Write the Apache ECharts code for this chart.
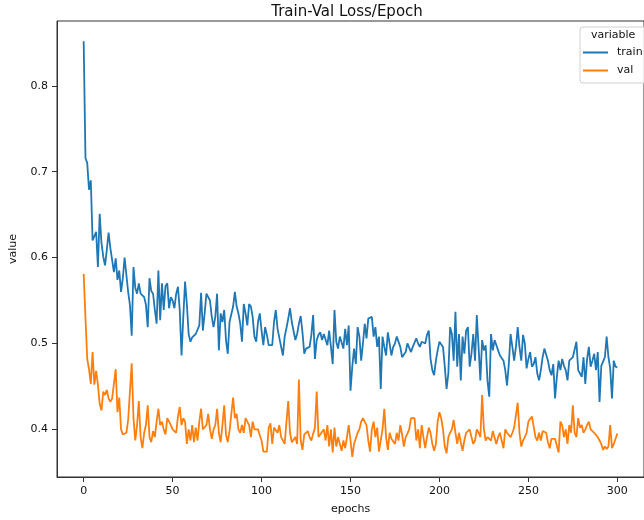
<!DOCTYPE html>
<html>
<head>
<meta charset="utf-8">
<script src="https://cdn.jsdelivr.net/npm/echarts@6/dist/echarts.min.js"></script>
<style>
  html, body { margin: 0; padding: 0; background: #fff; }
  #chart { width: 644px; height: 520px; }
</style>
</head>
<body>
<div id="chart"></div>
<script>
const trainLoss = [
  0.852, 0.716, 0.710, 0.679, 0.690, 0.620, 0.622, 0.630, 0.589, 0.651,
  0.617, 0.601, 0.591, 0.609, 0.629, 0.611, 0.609, 0.583, 0.599, 0.574,
  0.585, 0.560, 0.576, 0.600, 0.580, 0.560, 0.545, 0.509, 0.589, 0.565,
  0.558, 0.570, 0.558, 0.560, 0.554, 0.545, 0.519, 0.576, 0.561, 0.558,
  0.539, 0.523, 0.585, 0.527, 0.570, 0.539, 0.567, 0.570, 0.541, 0.554,
  0.550, 0.541, 0.558, 0.566, 0.539, 0.486, 0.531, 0.572, 0.546, 0.511,
  0.502, 0.507, 0.509, 0.511, 0.513, 0.521, 0.559, 0.515, 0.535, 0.558,
  0.558, 0.550, 0.531, 0.519, 0.531, 0.558, 0.492, 0.535, 0.525, 0.539,
  0.504, 0.488, 0.525, 0.525, 0.543, 0.560, 0.543, 0.535, 0.523, 0.502,
  0.546, 0.535, 0.521, 0.546, 0.543, 0.531, 0.508, 0.502, 0.525, 0.535,
  0.515, 0.498, 0.519, 0.510, 0.498, 0.496, 0.498, 0.525, 0.539, 0.517,
  0.515, 0.496, 0.486, 0.508, 0.518, 0.529, 0.541, 0.525, 0.523, 0.504,
  0.511, 0.523, 0.532, 0.513, 0.488, 0.494, 0.492, 0.496, 0.510, 0.533,
  0.482, 0.504, 0.510, 0.513, 0.504, 0.511, 0.510, 0.498, 0.515, 0.496,
  0.476, 0.539, 0.502, 0.494, 0.508, 0.506, 0.494, 0.517, 0.498, 0.521,
  0.445, 0.473, 0.494, 0.476, 0.519, 0.508, 0.480, 0.500, 0.523, 0.506,
  0.529, 0.527, 0.531, 0.508, 0.519, 0.496, 0.508, 0.447, 0.508, 0.496,
  0.486, 0.513, 0.511, 0.486, 0.496, 0.500, 0.508, 0.510, 0.496, 0.484,
  0.482, 0.490, 0.500, 0.502, 0.490, 0.496, 0.498, 0.506, 0.500, 0.496,
  0.502, 0.504, 0.500, 0.510, 0.515, 0.482, 0.469, 0.463, 0.480, 0.492,
  0.502, 0.504, 0.496, 0.473, 0.447, 0.465, 0.519, 0.511, 0.480, 0.537,
  0.473, 0.511, 0.457, 0.508, 0.488, 0.515, 0.519, 0.473, 0.488, 0.511,
  0.480, 0.533, 0.496, 0.457, 0.504, 0.492, 0.498, 0.457, 0.438, 0.511,
  0.492, 0.504, 0.506, 0.492, 0.486, 0.484, 0.480, 0.469, 0.451, 0.476,
  0.511, 0.496, 0.480, 0.496, 0.519, 0.496, 0.480, 0.510, 0.500, 0.471,
  0.482, 0.490, 0.473, 0.476, 0.484, 0.465, 0.457, 0.469, 0.484, 0.494,
  0.492, 0.480, 0.469, 0.463, 0.476, 0.436, 0.461, 0.480, 0.469, 0.482,
  0.474, 0.469, 0.457, 0.480, 0.482, 0.484, 0.484, 0.502, 0.469, 0.465,
  0.461, 0.484, 0.453, 0.482, 0.496, 0.473, 0.480, 0.488, 0.469, 0.490,
  0.432, 0.474, 0.476, 0.484, 0.508, 0.484, 0.471, 0.436, 0.480, 0.473,
  0.472
]

const valLoss = [
  0.581, 0.530, 0.482, 0.470, 0.453, 0.490, 0.452, 0.468, 0.452, 0.430,
  0.422, 0.444, 0.440, 0.446, 0.436, 0.432, 0.436, 0.437, 0.470, 0.420,
  0.437, 0.400, 0.394, 0.394, 0.396, 0.411, 0.413, 0.477, 0.413, 0.387,
  0.405, 0.433, 0.391, 0.378, 0.396, 0.405, 0.428, 0.391, 0.385, 0.398,
  0.391, 0.409, 0.424, 0.405, 0.409, 0.400, 0.394, 0.413, 0.409, 0.405,
  0.400, 0.400, 0.396, 0.415, 0.426, 0.405, 0.413, 0.409, 0.383, 0.400,
  0.387, 0.405, 0.385, 0.402, 0.387, 0.409, 0.424, 0.400, 0.402, 0.405,
  0.418, 0.400, 0.389, 0.400, 0.405, 0.424, 0.396, 0.385, 0.405, 0.428,
  0.394, 0.385, 0.398, 0.418, 0.437, 0.413, 0.418, 0.400, 0.396, 0.405,
  0.396, 0.413, 0.415, 0.405, 0.391, 0.409, 0.400, 0.400, 0.400, 0.393,
  0.387, 0.374, 0.374, 0.374, 0.402, 0.407, 0.383, 0.402, 0.400, 0.396,
  0.405, 0.391, 0.391, 0.383, 0.409, 0.433, 0.396, 0.385, 0.388, 0.391,
  0.383, 0.458, 0.387, 0.376, 0.394, 0.396, 0.398, 0.391, 0.387, 0.395,
  0.402, 0.444, 0.391, 0.394, 0.396, 0.400, 0.387, 0.405, 0.380, 0.400,
  0.373, 0.402, 0.380, 0.391, 0.383, 0.375, 0.387, 0.378, 0.391, 0.405,
  0.387, 0.368, 0.383, 0.383, 0.396, 0.400, 0.409, 0.413, 0.411, 0.405,
  0.387, 0.374, 0.400, 0.409, 0.391, 0.402, 0.374, 0.387, 0.400, 0.424,
  0.391, 0.376, 0.396, 0.389, 0.391, 0.383, 0.396, 0.387, 0.405, 0.394,
  0.380, 0.391, 0.395, 0.400, 0.413, 0.414, 0.413, 0.387, 0.400, 0.378,
  0.405, 0.391, 0.378, 0.391, 0.402, 0.396, 0.383, 0.375, 0.383, 0.409,
  0.420, 0.413, 0.400, 0.380, 0.372, 0.391, 0.396, 0.400, 0.411, 0.396,
  0.383, 0.396, 0.385, 0.375, 0.387, 0.396, 0.398, 0.400, 0.391, 0.383,
  0.387, 0.400, 0.396, 0.391, 0.440, 0.400, 0.387, 0.391, 0.389, 0.387,
  0.398, 0.400, 0.383, 0.391, 0.396, 0.394, 0.378, 0.400, 0.396, 0.396,
  0.391, 0.396, 0.402, 0.400, 0.431, 0.396, 0.380, 0.387, 0.391, 0.396,
  0.409, 0.412, 0.415, 0.413, 0.391, 0.387, 0.396, 0.387, 0.398, 0.400,
  0.396, 0.385, 0.378, 0.389, 0.391, 0.389, 0.387, 0.373, 0.409, 0.405,
  0.391, 0.400, 0.383, 0.405, 0.396, 0.428, 0.396, 0.391, 0.413, 0.402,
  0.405, 0.396, 0.400, 0.405, 0.409, 0.400, 0.402, 0.396, 0.394, 0.391,
  0.387, 0.383, 0.376, 0.380, 0.377, 0.380, 0.405, 0.378, 0.383, 0.389,
  0.395
]

const epochs = trainLoss.map((_, i) => i)
const xTicks = [0, 50, 100, 150, 200, 250, 300]
const yTicks = [0.4, 0.5, 0.6, 0.7, 0.8]

const FONT = 'DejaVu Sans'
const TRAIN_COLOR = '#1f77b4'
const VAL_COLOR = '#ff7f0e'

const chart = echarts.init(document.getElementById('chart'), null, { renderer: 'canvas' })

const toPoints = (values) => epochs.map((e, i) => [e, values[i]])

chart.setOption({
  animation: false,
  backgroundColor: '#fff',
  title: {
    text: 'Train-Val Loss/Epoch',
    left: 342,
    top: 0,
    textAlign: 'center',
    textStyle: { fontFamily: FONT, fontSize: 15, fontWeight: 'normal', color: '#111' }
  },
  grid: {
    left: 56,
    top: 21,
    width: 601,
    height: 457,
    show: true,
    borderColor: '#333',
    borderWidth: 1,
    containLabel: false
  },
  xAxis: {
    type: 'value',
    min: -15,
    max: 315,
    name: 'epochs',
    nameLocation: 'middle',
    nameGap: 27,
    nameTextStyle: { fontFamily: FONT, fontSize: 11, color: '#111' },
    axisLine: { show: true, onZero: false, lineStyle: { color: '#333', width: 1 } },
    axisTick: { show: true, length: 5, lineStyle: { color: '#333' }, customValues: xTicks },
    axisLabel: {
      fontFamily: FONT, fontSize: 11, color: '#111', margin: 9,
      customValues: xTicks
    },
    splitLine: { show: false }
  },
  yAxis: {
    type: 'value',
    min: 0.3445,
    max: 0.8755,
    name: 'value',
    nameLocation: 'middle',
    nameRotate: 90,
    nameGap: 38,
    nameTextStyle: { fontFamily: FONT, fontSize: 11, color: '#111' },
    axisLine: { show: true, onZero: false, lineStyle: { color: '#333', width: 1 } },
    axisTick: { show: true, length: 5, lineStyle: { color: '#333' }, customValues: yTicks },
    axisLabel: {
      fontFamily: FONT, fontSize: 11, color: '#111', margin: 9,
      customValues: yTicks,
      formatter: (v) => v.toFixed(1)
    },
    splitLine: { show: false }
  },
  legend: {
    data: ['train', 'val'],
    orient: 'vertical',
    left: 583,
    top: 46,
    z: 10,
    icon: 'rect',
    itemWidth: 25,
    itemHeight: 2,
    itemGap: 5,
    padding: 0,
    textStyle: { fontFamily: FONT, fontSize: 11, color: '#111', lineHeight: 13, padding: [0, 0, 0, 4] }
  },
  graphic: [
    {
      type: 'rect',
      z: 5,
      shape: { x: 580, y: 27, width: 71, height: 56, r: 3 },
      style: { fill: 'rgba(255,255,255,0.8)', stroke: '#d0d0d0', lineWidth: 1 }
    },
    {
      type: 'text',
      z: 11,
      left: 591,
      top: 30,
      style: { text: 'variable', fontFamily: FONT, fontSize: 11, fill: '#111' }
    }
  ],
  series: [
    {
      name: 'train',
      type: 'line',
      data: toPoints(trainLoss),
      showSymbol: false,
      symbol: 'none',
      lineStyle: { color: TRAIN_COLOR, width: 1.8 },
      itemStyle: { color: TRAIN_COLOR }
    },
    {
      name: 'val',
      type: 'line',
      data: toPoints(valLoss),
      showSymbol: false,
      symbol: 'none',
      lineStyle: { color: VAL_COLOR, width: 1.8 },
      itemStyle: { color: VAL_COLOR }
    }
  ]
})
</script>
</body>
</html>
